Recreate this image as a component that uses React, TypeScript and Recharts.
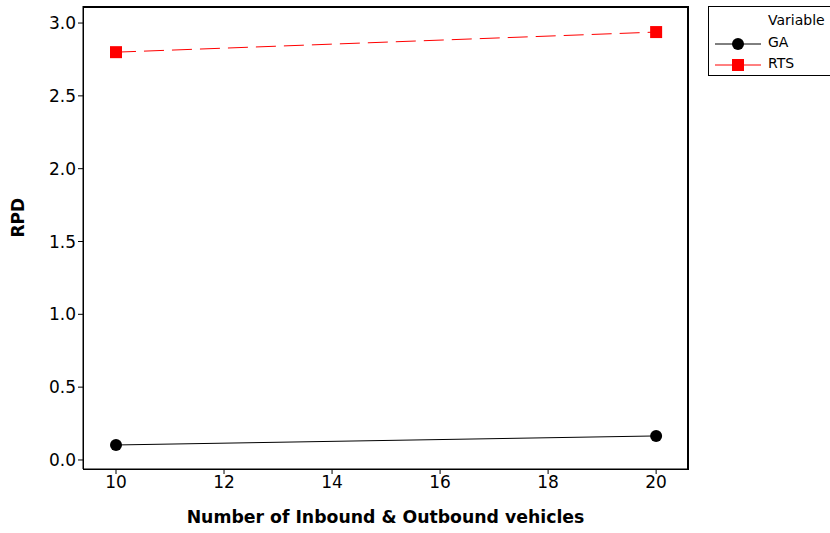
import { Line, LineChart, XAxis, YAxis } from 'recharts';

const VEHICLES = [10, 20];
const GA = [0.103, 0.165];
const RTS = [2.8, 2.938];
const X_TICKS = [10, 12, 14, 16, 18, 20];
const Y_TICKS = [0, 0.5, 1.0, 1.5, 2.0, 2.5, 3.0];

const FONT = '"DejaVu Sans", Verdana, sans-serif';

const data = VEHICLES.map((v, i) => ({ x: v, GA: GA[i], RTS: RTS[i] }));

function LegendBox() {
  return (
    <div
      style={{
        position: 'absolute',
        left: 708,
        top: 6,
        width: 130,
        height: 70,
        boxSizing: 'border-box',
        border: '1px solid #000',
        fontFamily: FONT,
        fontSize: 14,
        color: '#000',
        background: '#fff',
      }}
    >
      <svg width={60} height={70} style={{ position: 'absolute', left: 0, top: 0 }}>
        <line x1={6} x2={52} y1={37} y2={37} stroke="#000" />
        <circle cx={29} cy={37} r={6} fill="#000" />
        <line x1={6} x2={52} y1={58} y2={58} stroke="#ff0000" />
        <rect x={23} y={52} width={12} height={12} fill="#ff0000" />
      </svg>
      <div style={{ position: 'absolute', left: 59, top: 5 }}>Variable</div>
      <div style={{ position: 'absolute', left: 59, top: 27 }}>GA</div>
      <div style={{ position: 'absolute', left: 59, top: 48 }}>RTS</div>
    </div>
  );
}

export default function App() {
  return (
    <div style={{ position: 'absolute', left: 0, top: 0, width: 830, height: 533, background: '#fff', overflow: 'hidden' }}>
      <LineChart
        width={830}
        height={533}
        data={data}
        margin={{ top: 6, right: 142, left: 0, bottom: 0 }}
      >
        <XAxis
          dataKey="x"
          type="number"
          domain={[9.389, 20.59]}
          ticks={X_TICKS}
          allowDataOverflow
          height={64}
          stroke="#000"
          tickSize={5}
          tick={{ fill: '#000', fontSize: 17, fontFamily: FONT }}
          label={{
            value: 'Number of Inbound & Outbound vehicles',
            position: 'insideBottom',
            offset: 10,
            fill: '#000',
            fontSize: 17.3,
            fontWeight: 'bold',
            fontFamily: FONT,
          }}
        />
        <YAxis
          type="number"
          domain={[-0.062, 3.117]}
          ticks={Y_TICKS}
          allowDataOverflow
          width={83}
          stroke="#000"
          tickSize={5}
          tickFormatter={(v: number) => v.toFixed(1)}
          tick={{ fill: '#000', fontSize: 17, fontFamily: FONT }}
          label={{
            value: 'RPD',
            angle: -90,
            position: 'insideLeft',
            offset: 18,
            fill: '#000',
            fontSize: 17,
            fontWeight: 'bold',
            fontFamily: FONT,
          }}
        />
        <Line
          dataKey="GA"
          stroke="#000"
          strokeWidth={1}
          isAnimationActive={false}
          dot={{ r: 6, fill: '#000', stroke: '#000', strokeWidth: 0 }}
        />
        <Line
          dataKey="RTS"
          stroke="#ff0000"
          strokeWidth={1}
          strokeDasharray="20 8"
          isAnimationActive={false}
          dot={(p: any) => (
            <rect key={`rts-${p.index}`} x={p.cx - 6} y={p.cy - 6} width={12} height={12} fill="#ff0000" />
          )}
        />
      </LineChart>
      <div
        style={{
          position: 'absolute',
          left: 83,
          top: 6,
          width: 606,
          height: 464,
          boxSizing: 'border-box',
          border: '1px solid #000',
          borderTopWidth: 2,
          borderRightWidth: 2,
          pointerEvents: 'none',
        }}
      />
      <LegendBox />
    </div>
  );
}
